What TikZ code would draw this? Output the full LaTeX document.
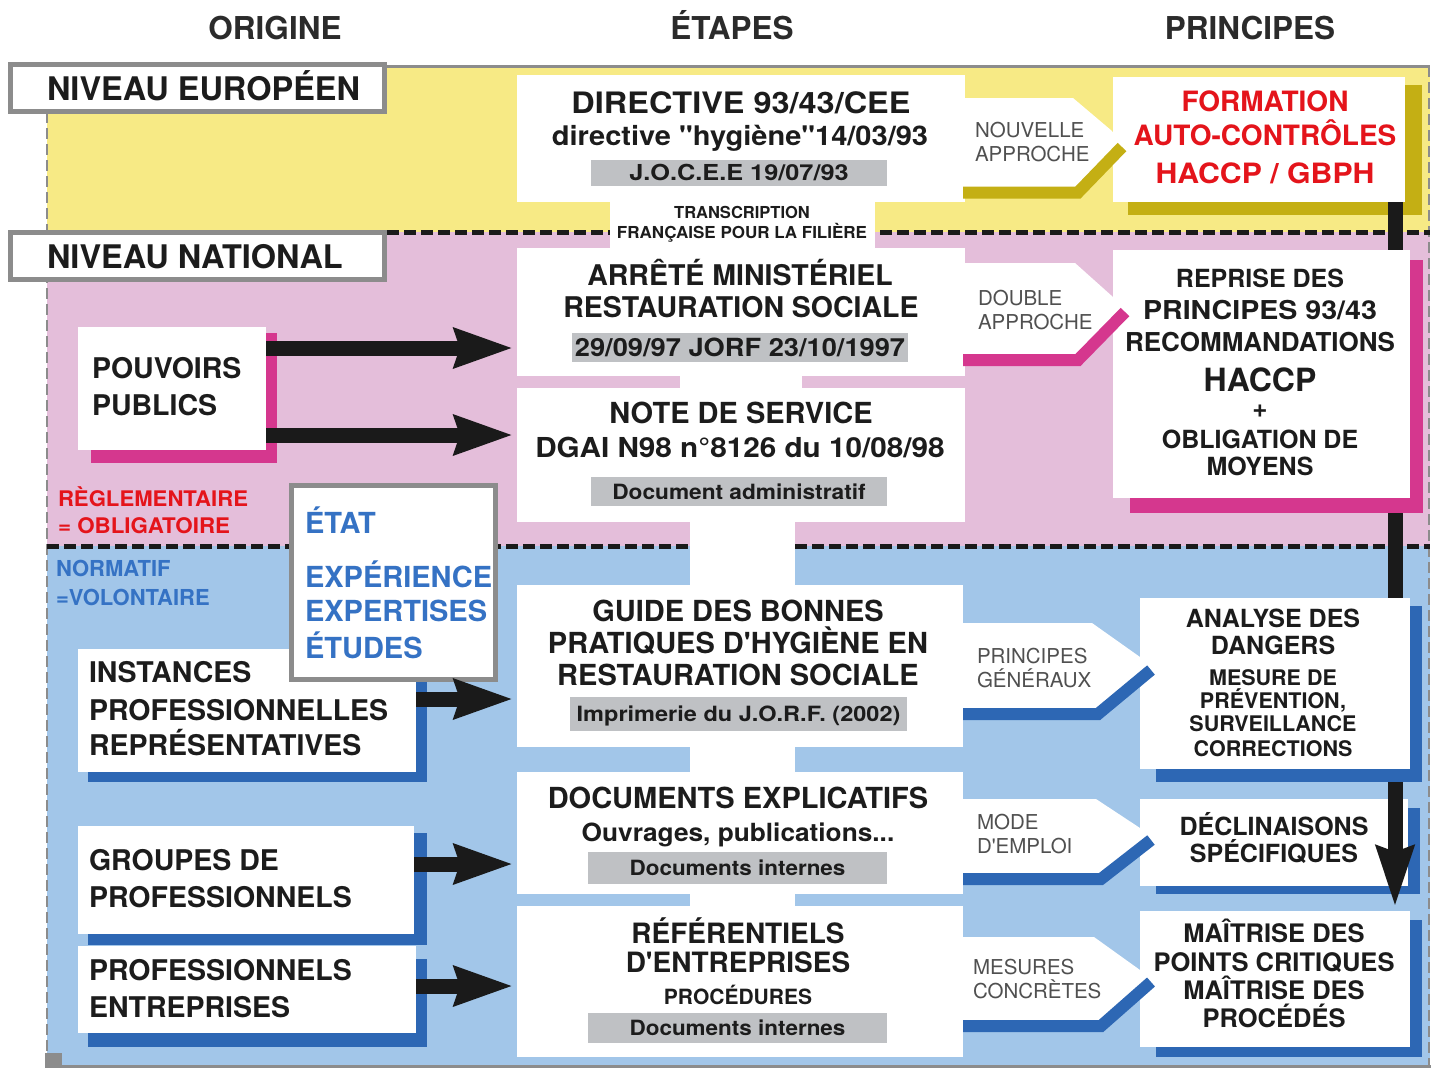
\documentclass[tikz,border=0pt]{standalone}
\usepackage{fontspec}
\usepackage{graphicx}
\newfontfamily\hv{TeX Gyre Heros}
\usetikzlibrary{arrows.meta}
\definecolor{cyel}{HTML}{F7EA85}
\definecolor{cpink}{HTML}{E4BEDA}
\definecolor{cblue}{HTML}{A2C6E9}
\definecolor{colive}{HTML}{C4AF14}
\definecolor{cmag}{HTML}{D5378E}
\definecolor{cdblue}{HTML}{2D67B4}
\definecolor{cbar}{HTML}{BFC1C4}
\definecolor{cframe}{HTML}{8C8C8C}
\definecolor{cdark}{HTML}{1C1C1C}
\definecolor{chead}{HTML}{2B2B2B}
\definecolor{cred}{HTML}{E4141B}
\definecolor{ctblue}{HTML}{3572C4}
\definecolor{clab}{HTML}{505050}
\definecolor{cblack}{HTML}{1A1A1A}
\newcommand\bfz[1]{\hv\bfseries\fontsize{#1}{#1}\selectfont}
\newcommand\rgz[1]{\hv\fontsize{#1}{#1}\selectfont}
\newcommand\hsc[2]{\scalebox{#1}[1]{#2}}
\newcommand\rbox[6]{\node[#6, anchor=north west, inner sep=0pt, outer sep=0pt, minimum width={(#4)-(#2)}, minimum height={(#5)-(#3)}] (#1) at (#2,#3) {};}
\newcommand\barbox[8]{\node[fill=cbar, inner sep=0pt, outer sep=0pt, minimum width={(#4)-(#2)}, minimum height={(#5)-(#3)}, text height=#7, text depth=0pt, font=\bfz{#6}, text=cdark] (#1) at ({(#2+#4)/2},{(#3+#5)/2}) {#8};}
\newcommand\apent[9]{%
  \fill[white] (963,#1) -- (#2,#1) -- (#3,#4) -- (#7,#8) -- (#6,#5) -- (963,#5) -- cycle;
  \draw[line width=12pt, #9] (963,#5) -- (#6,#5) -- (#7,#8);}
\tikzset{
  tc/.style={anchor=base, inner sep=0pt, outer sep=0pt, font=\bfz{#1}, text=cdark},
  tl/.style={anchor=base west, inner sep=0pt, outer sep=0pt, font=\bfz{#1}, text=cdark},
  lab/.style={anchor=base west, inner sep=0pt, outer sep=0pt, font=\rgz{20.5}, text=clab},
  wbox/.style={fill=white},
  graybox/.style={fill=white, draw=cframe, line width=5pt},
  bdash/.style={draw=cblack, line width=5pt, dash pattern=on 12pt off 5pt},
  gsolid/.style={draw=cframe, line width=3pt},
  gdash/.style={draw=cframe, line width=2.5pt, dash pattern=on 11pt off 5pt},
  fat/.style={draw=cblack, line width=15pt, -{Stealth[length=58pt, width=38pt, inset=5pt]}, shorten >=4pt},
  vconn/.style={draw=cblack, line width=15pt},
  varrow/.style={draw=cblack, line width=15pt, -{Stealth[length=60pt, width=36pt, inset=5pt]}, shorten >=4pt},
}
\begin{document}
\begin{tikzpicture}[x=1pt, y=-1pt]
\useasboundingbox (0,0) rectangle (1437,1072);
% bands
\fill[cyel] (47,67) rectangle (1430,232);
\fill[cpink] (47,232) rectangle (1430,546);
\fill[cblue] (47,546) rectangle (1430,1066);
% frame
\draw[gsolid] (47,66) -- (1430,66);
\draw[gdash] (1429,66) -- (1429,1066);
\draw[gdash] (47,112) -- (47,1066);
\draw[gsolid] (47,1066) -- (1431,1066);
\fill[cframe] (45,1053) rectangle (62,1068);
% level separators
\draw[bdash] (47,232.5) -- (1430,232.5);
\draw[bdash] (47,546) -- (1430,546);
% central column
\rbox{dir}{517}{75}{965}{202}{wbox}
\rbox{trb}{610}{201}{875}{249}{wbox}
\rbox{arr}{517}{248}{965}{376}{wbox}
\rbox{sp1}{680}{375}{802}{389}{wbox}
\rbox{note}{517}{388}{965}{522}{wbox}
\rbox{sp2}{690}{521}{795}{586}{wbox}
\rbox{guide}{517}{585}{963}{747}{wbox}
\rbox{sp3}{690}{746}{795}{773}{wbox}
\rbox{docs}{517}{772}{963}{894}{wbox}
\rbox{sp4}{690}{893}{795}{907}{wbox}
\rbox{ref}{517}{906}{963}{1057}{wbox}
% bars
\barbox{b1}{591}{160}{887}{186}{22}{15.8pt}{\hsc{1.15}{J.O.C.E.E 19/07/93}}
\barbox{b2}{572}{333}{908}{362}{25}{18pt}{\hsc{1.09}{29/09/97 JORF 23/10/1997}}
\barbox{b3}{591}{477}{887}{506}{21}{15.1pt}{\hsc{1.08}{Document administratif}}
\barbox{b4}{570}{697}{907}{731}{21}{15.1pt}{\hsc{1.12}{Imprimerie du J.O.R.F. (2002)}}
\barbox{b5}{588}{852}{887}{884}{21}{15.1pt}{\hsc{1.07}{Documents internes}}
\barbox{b6}{588}{1013}{887}{1043}{21}{15.1pt}{\hsc{1.07}{Documents internes}}
% right boxes
\rbox{formS}{1128}{85}{1422}{215}{fill=colive}
\rbox{form}{1113}{77}{1405}{202}{wbox}
\rbox{repS}{1130}{260}{1423}{513}{fill=cmag}
\rbox{rep}{1113}{250}{1410}{498}{wbox}
\rbox{anaS}{1156}{606}{1422}{782}{fill=cdblue}
\rbox{ana}{1140}{598}{1410}{769}{wbox}
\rbox{decS}{1156}{808}{1420}{894}{fill=cdblue}
\rbox{dec}{1140}{799}{1408}{886}{wbox}
\rbox{maiS}{1156}{920}{1422}{1057}{fill=cdblue}
\rbox{mai}{1140}{911}{1410}{1047}{wbox}
% arrow shapes
\apent{98}{1073}{1112}{131}{192.5}{1078}{1122}{147}{colive}
\apent{263}{1075}{1113}{297}{360}{1078}{1125}{312}{cmag}
\apent{623}{1092}{1140}{657}{714}{1098}{1151}{670}{cdblue}
\apent{799}{1096}{1140}{828}{879}{1101}{1151}{840}{cdblue}
\apent{937}{1094}{1140}{970}{1026}{1101}{1151}{982}{cdblue}
% left boxes
\rbox{ppS}{91}{333}{277}{463}{fill=cmag}
\rbox{pp}{78}{327}{266}{450}{wbox}
\rbox{insS}{88}{656}{427}{782}{fill=cdblue}
\rbox{ins}{78}{649}{416}{772}{wbox}
\rbox{grS}{88}{833}{427}{945}{fill=cdblue}
\rbox{gr}{78}{826}{414}{934}{wbox}
\rbox{peS}{88}{959}{427}{1047}{fill=cdblue}
\rbox{pe}{78}{946}{416}{1033}{wbox}
\rbox{etat}{291.5}{485.5}{495.5}{679.5}{graybox}
\rbox{neb}{10.5}{64.5}{384.5}{111.5}{graybox}
\rbox{nnb}{10.5}{232.5}{384.5}{279.5}{graybox}
% connectors
\coordinate (ya) at (0,348);
\coordinate (yb) at (0,435);
\coordinate (yc) at (0,699);
\coordinate (yd) at (0,864);
\coordinate (ye) at (0,986);
\coordinate (vx) at (1395,0);
\draw[fat] (pp.east |- ya) -- (arr.west |- ya);
\draw[fat] (pp.east |- yb) -- (note.west |- yb);
\draw[fat] (ins.east |- yc) -- (guide.west |- yc);
\draw[fat] (gr.east |- yd) -- (docs.west |- yd);
\draw[fat] (pe.east |- ye) -- (ref.west |- ye);
\draw[vconn] (form.south -| vx) -- (rep.north -| vx);
\draw[vconn] (repS.south -| vx) -- (ana.north -| vx);
\draw[varrow] (anaS.south -| vx) -- (mai.north -| vx);
% headers
\node[tc=31.5, text=chead] (h1) at (275,39) {ORIGINE};
\node[tc=31.5, text=chead] (h2) at (732,39) {ÉTAPES};
\node[tc=31.5, text=chead] (h3) at (1250,39) {PRINCIPES};
\node[tl=32.5] (ne) at (47,100) {NIVEAU EUROPÉEN};
\node[tl=32.5] (nn) at (47,268) {NIVEAU NATIONAL};
% central texts
\node[tc=29.5] (d1) at (741,113) {\hsc{1.1}{DIRECTIVE 93/43/CEE}};
\node[tc=27] (d2) at (740,145) {\hsc{1.075}{directive "hygiène"14/03/93}};
\node[tc=16.5] (tr1) at (742,218) {TRANSCRIPTION};
\node[tc=16.5] (tr2) at (742,238) {\hsc{1.03}{FRANÇAISE POUR LA FILIÈRE}};
\node[tc=28.5] (a1) at (740,285) {ARRÊTÉ MINISTÉRIEL};
\node[tc=28.5] (a2) at (741,317) {RESTAURATION SOCIALE};
\node[tc=29] (n1) at (741,423) {NOTE DE SERVICE};
\node[tc=27.5] (n2) at (740,457) {\hsc{1.08}{DGAI N98 n°8126 du 10/08/98}};
\node[tc=29] (g1) at (738,621) {GUIDE DES BONNES};
\node[tc=29] (g2) at (738,653) {PRATIQUES D'HYGIÈNE EN};
\node[tc=29] (g3) at (738,685) {RESTAURATION SOCIALE};
\node[tc=29] (x1) at (738,808) {DOCUMENTS EXPLICATIFS};
\node[tc=25] (x2) at (738,841) {\hsc{1.05}{Ouvrages, publications...}};
\node[tc=28] (r1) at (738,943) {RÉFÉRENTIELS};
\node[tc=28] (r2) at (738,972) {D'ENTREPRISES};
\node[tc=21] (r3) at (738,1004.5) {PROCÉDURES};
% right texts
\node[tc=28, text=cred] (f1) at (1265,111) {FORMATION};
\node[tc=28, text=cred] (f2) at (1265,145) {AUTO-CONTRÔLES};
\node[tc=28, text=cred] (f3) at (1265,183) {\hsc{1.08}{HACCP / GBPH}};
\node[tc=25] (p1) at (1260,287) {REPRISE DES};
\node[tc=26] (p2) at (1260,319) {\hsc{1.1}{PRINCIPES 93/43}};
\node[tc=26] (p3) at (1260,351) {RECOMMANDATIONS};
\node[tc=32] (p4) at (1260,391.5) {HACCP};
\node[tc=26] (p5) at (1260,417) {+};
\node[tc=25] (p6) at (1260,448) {OBLIGATION DE};
\node[tc=25] (p7) at (1260,475) {MOYENS};
\node[tc=25] (an1) at (1273,627) {ANALYSE DES};
\node[tc=25] (an2) at (1273,654) {DANGERS};
\node[tc=21.5] (an3) at (1273,685) {MESURE DE};
\node[tc=21.5] (an4) at (1273,708) {PRÉVENTION,};
\node[tc=21.5] (an5) at (1273,731) {SURVEILLANCE};
\node[tc=21.5] (an6) at (1273,756) {CORRECTIONS};
\node[tc=25] (dc1) at (1274,835) {DÉCLINAISONS};
\node[tc=25] (dc2) at (1274,862) {SPÉCIFIQUES};
\node[tc=25.5] (m1) at (1274,942) {MAÎTRISE DES};
\node[tc=25.5] (m2) at (1274,971) {POINTS CRITIQUES};
\node[tc=25.5] (m3) at (1274,999) {MAÎTRISE DES};
\node[tc=25.5] (m4) at (1274,1027) {PROCÉDÉS};
% arrow labels
\node[lab] (l1) at (975,137.5) {NOUVELLE};
\node[lab] (l2) at (975,161.5) {APPROCHE};
\node[lab] (l3) at (978,305.5) {DOUBLE};
\node[lab] (l4) at (978,329.5) {APPROCHE};
\node[lab] (l5) at (977,663.5) {PRINCIPES};
\node[lab] (l6) at (977,687.5) {GÉNÉRAUX};
\node[lab] (l7) at (977,829.5) {MODE};
\node[lab] (l8) at (977,853.5) {D'EMPLOI};
\node[lab] (l9) at (973,974.5) {MESURES};
\node[lab] (l10) at (973,998.5) {CONCRÈTES};
% left texts
\node[tl=28.5] (q1) at (92,378) {POUVOIRS};
\node[tl=28.5] (q2) at (92,415) {PUBLICS};
\node[tl=28.5] (q3) at (89,682) {INSTANCES};
\node[tl=28.5] (q4) at (89,720) {PROFESSIONNELLES};
\node[tl=28.5] (q5) at (89,755) {REPRÉSENTATIVES};
\node[tl=28.5] (q6) at (89,870) {GROUPES DE};
\node[tl=28.5] (q7) at (89,907) {PROFESSIONNELS};
\node[tl=28.5] (q8) at (89,980) {PROFESSIONNELS};
\node[tl=28.5] (q9) at (89,1017) {ENTREPRISES};
\node[tl=21.5, text=cred] (o1) at (58,506) {\hsc{1.03}{RÈGLEMENTAIRE}};
\node[tl=21.5, text=cred] (o2) at (58,533) {\hsc{1.04}{= OBLIGATOIRE}};
\node[tl=22, text=ctblue] (o3) at (56,576) {NORMATIF};
\node[tl=22, text=ctblue] (o4) at (56,605) {=VOLONTAIRE};
\node[tl=29, text=ctblue] (e1) at (305,533) {ÉTAT};
\node[tl=29, text=ctblue] (e2) at (305,587) {EXPÉRIENCE};
\node[tl=29, text=ctblue] (e3) at (305,621) {EXPERTISES};
\node[tl=29, text=ctblue] (e4) at (305,658) {ÉTUDES};
\end{tikzpicture}
\end{document}
